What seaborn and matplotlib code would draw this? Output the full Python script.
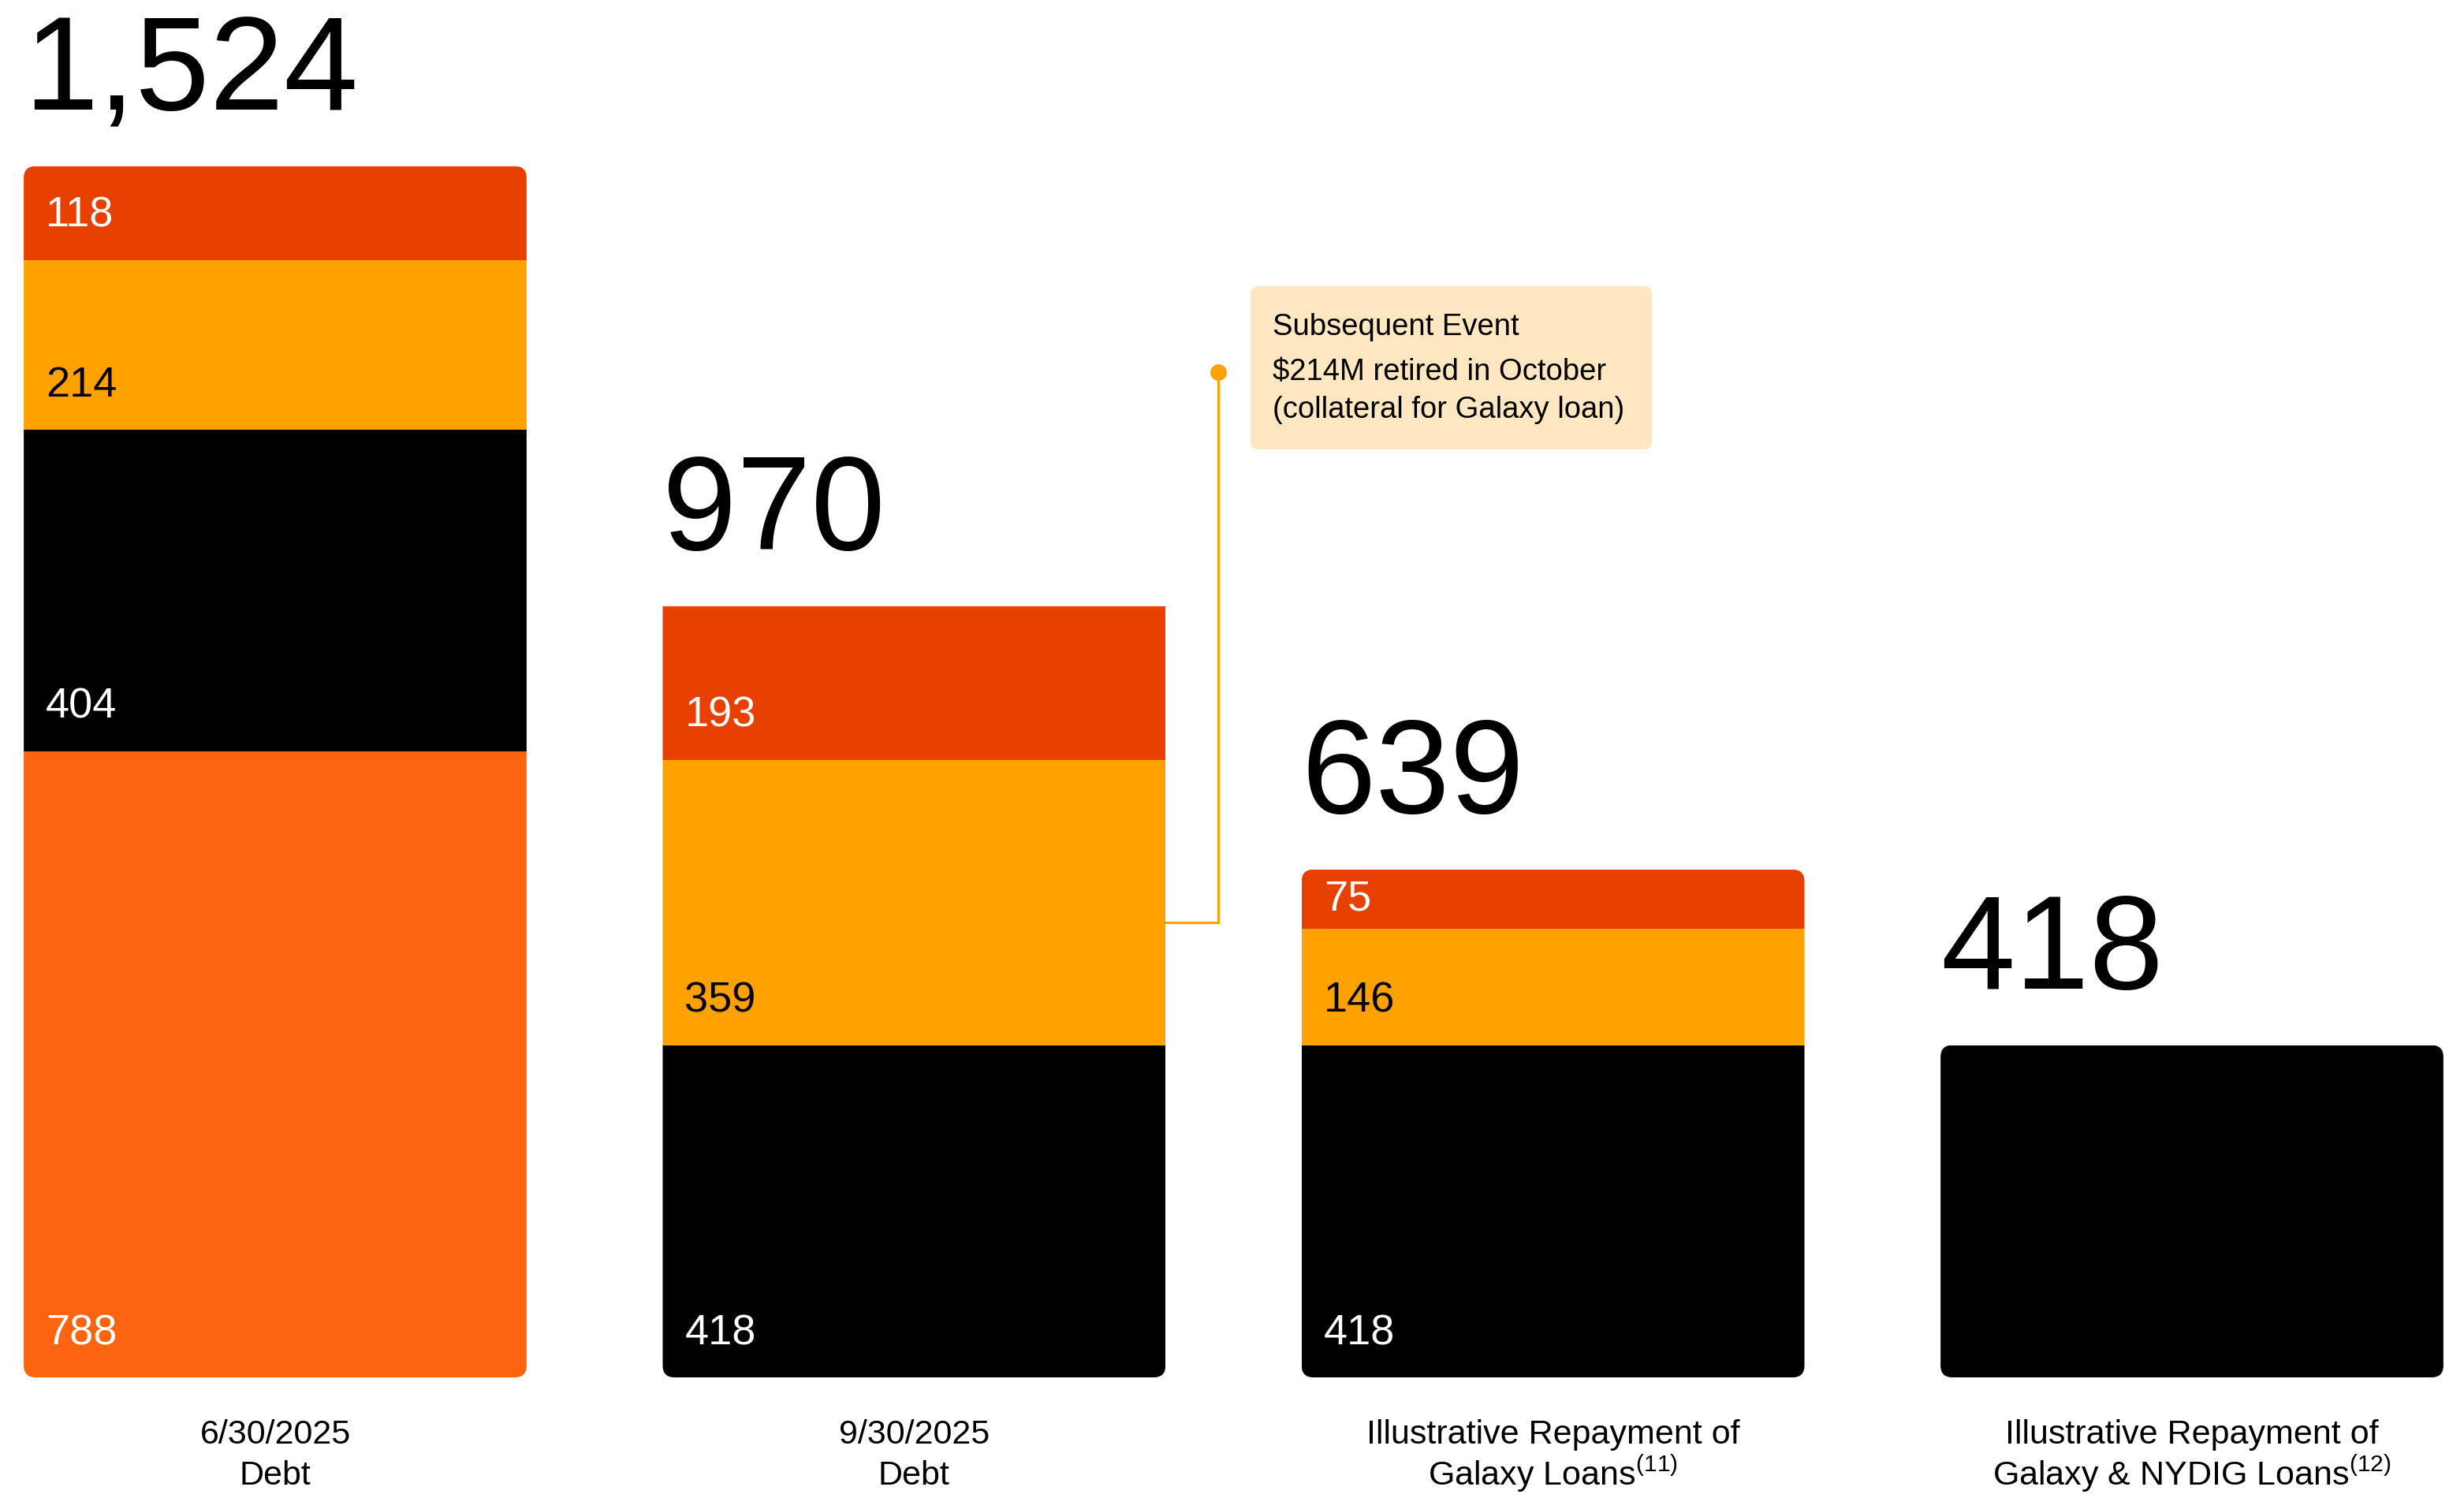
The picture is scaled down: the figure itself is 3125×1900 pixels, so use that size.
import numpy as np
import matplotlib
matplotlib.use("Agg")
import matplotlib.pyplot as plt
import seaborn as sns
from matplotlib.patches import FancyBboxPatch

# ---------------- data ----------------
categories = [
    "6/30/2025\nDebt",
    "9/30/2025\nDebt",
    "Illustrative Repayment of\nGalaxy Loans$^{(11)}$",
    "Illustrative Repayment of\nGalaxy & NYDIG Loans$^{(12)}$",
]
# stacked segments, bottom -> top
seg_orange = [788, 0, 0, 0]
seg_black = [404, 418, 418, 418]
seg_amber = [214, 359, 146, 0]
seg_red = [118, 193, 75, 0]

annotation_lines = ["Subsequent Event", "$214M retired in October", "(collateral for Galaxy loan)"]

# ---------------- style ----------------
C_ORANGE = "#FC6410"
C_BLACK = "#000000"
C_AMBER = "#FFA200"
C_RED = "#E84000"
C_NOTE_BG = "#FFE7C2"

sns.set_theme(style="white")
plt.rcParams["font.family"] = ["Liberation Sans", "DejaVu Sans"]
plt.rcParams["mathtext.default"] = "regular"
plt.rcParams["mathtext.fontset"] = "custom"
plt.rcParams["mathtext.rm"] = "Liberation Sans"

W_PX, H_PX = 3125, 1900
BOTTOM_PX = 153
PX_PER_UNIT = 1.008
fig = plt.figure(figsize=(W_PX / 100, H_PX / 100), dpi=100)
ax = fig.add_axes([0, BOTTOM_PX / H_PX, 1, 1 - BOTTOM_PX / H_PX])

BAR_W = 0.787
series = [
    ("orange", seg_orange, C_ORANGE, "white"),
    ("black", seg_black, C_BLACK, "white"),
    ("amber", seg_amber, C_AMBER, "black"),
    ("red", seg_red, C_RED, "white"),
]

bottom = np.zeros(len(categories))
for name, vals, col, _ in series:
    sns.barplot(x=categories, y=vals, bottom=bottom.copy(), color=col, saturation=1,
                width=BAR_W, errorbar=None, linewidth=0, edgecolor="none", ax=ax,
                order=categories)
    bottom = bottom + np.array(vals, dtype=float)
totals = bottom

# axis geometry
xu = 3 / 2431.0
xlim = (-349 * xu, 3 + (W_PX - 2780) * xu)
ylim = (0, (H_PX - BOTTOM_PX) / PX_PER_UNIT)
ax.set_xlim(*xlim)
ax.set_ylim(*ylim)
yu = (ylim[1] - ylim[0]) / (H_PX - BOTTOM_PX)

# rounded corners via clip paths
round_top = [True, False, True, True]
radius_px = 15
clips = []
for i, tot in enumerate(totals):
    left = i - BAR_W / 2
    extra = 0 if round_top[i] else 3 * radius_px * yu
    clip = FancyBboxPatch((left, 0), BAR_W, tot + extra,
                          boxstyle=f"round,pad=0,rounding_size={radius_px * xu}",
                          mutation_aspect=yu / xu, transform=ax.transData)
    clips.append(clip)
for p in ax.patches:
    cx = p.get_x() + p.get_width() / 2
    i = int(round(cx))
    p.set_clip_path(clips[i])

# segment labels
for i in range(len(categories)):
    nseg = sum(1 for _, v, _, _ in series if v[i] > 0)
    left = i - BAR_W / 2
    base = 0.0
    for name, vals, col, tcol in series:
        v = vals[i]
        if v <= 0:
            continue
        if nseg > 1:
            y = base + min(56 * yu, v / 2)
            ax.text(left + 28 * xu, y, f"{v:,}", ha="left", va="center",
                    fontsize=39, color=tcol)
        base += v
    # total label
    ax.text(left, totals[i] + 72 * yu, f"{int(totals[i]):,}", ha="left",
            va="baseline", fontsize=122, color="black")

# annotation box + connector
bx0 = (1586 - 349) * xu
bx1 = (2095 - 349) * xu
by0 = ylim[1] - 570 * yu
by1 = ylim[1] - 363 * yu
note = FancyBboxPatch((bx0, by0), bx1 - bx0, by1 - by0,
                      boxstyle=f"round,pad=0,rounding_size={10 * xu}",
                      mutation_aspect=yu / xu, facecolor=C_NOTE_BG,
                      edgecolor="none", transform=ax.transData, zorder=1)
ax.add_patch(note)
line_y_px = [415, 472, 520]
for txt, ypx in zip(annotation_lines, line_y_px):
    ax.text((1614 - 349) * xu, ylim[1] - ypx * yu, txt, ha="left", va="center",
            fontsize=27.5, color="black", zorder=2)

x_bar2_right = 1 + BAR_W / 2
y_conn = seg_black[1] + 0.43 * seg_amber[1]
x_conn = (1545 - 349) * xu
y_dot = ylim[1] - 472 * yu
ax.plot([x_bar2_right, x_conn, x_conn], [y_conn, y_conn, y_dot],
        color=C_AMBER, lw=2.2, solid_joinstyle="miter", zorder=1)
ax.plot([x_conn], [y_dot], marker="o", ms=14, color=C_AMBER, zorder=2)

# axes cosmetics
sns.despine(ax=ax, left=True, bottom=True)
ax.set_yticks([])
ax.set_ylabel("")
ax.set_xlabel("")
ax.tick_params(axis="x", length=0, pad=38, labelsize=31)
for t in ax.get_xticklabels():
    t.set_linespacing(1.1 if "$" in t.get_text() else 1.38)
    t.set_color("black")

fig.savefig("out.png", dpi=100, facecolor="white")
